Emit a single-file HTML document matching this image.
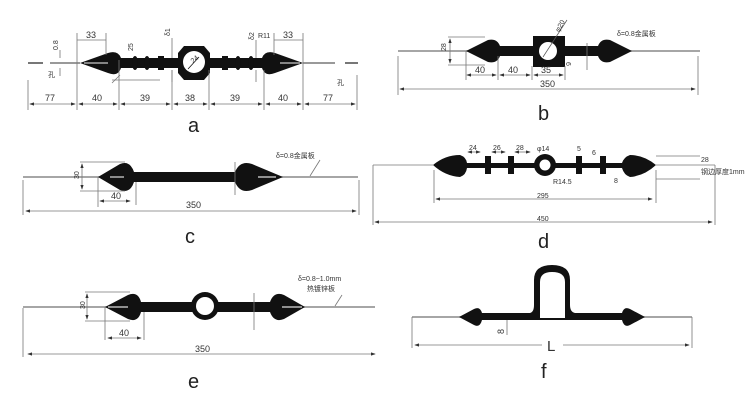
<!DOCTYPE html>
<html><head><meta charset="utf-8"><style>
html,body{margin:0;padding:0;background:#fff;}
svg{display:block;}
text{font-family:"Liberation Sans","Noto Sans CJK SC",sans-serif;fill:#333;}
.t{font-size:9px;}
.s{font-size:7px;}
.L{font-size:20px;fill:#222;}
.ln{stroke:#888;stroke-width:1;fill:none;}
.dl{stroke:#777;stroke-width:0.8;fill:none;}
.k{fill:#111;}
</style></head><body>
<svg width="750" height="401" viewBox="0 0 750 401" xmlns="http://www.w3.org/2000/svg">
<defs>
<marker id="a" markerWidth="6" markerHeight="6" refX="5" refY="3" orient="auto-start-reverse"><path d="M0,1 L6,3 L0,5z" fill="#333"/></marker>
</defs>
<rect width="750" height="401" fill="#fff"/>

<!-- Panel a -->
<g>
<line x1="28" y1="63" x2="43" y2="63" stroke="#777" stroke-width="2"/>
<line x1="50" y1="63" x2="80" y2="63" stroke="#999" stroke-width="2"/>
<line x1="303" y1="63" x2="335" y2="63" stroke="#999" stroke-width="2"/>
<line x1="345" y1="63" x2="358" y2="63" stroke="#777" stroke-width="2"/>
<path class="k" d="M80,63 L108,53 Q118,50 121,58 L178,58 L178,68 L121,68 Q118,77 108,73 Z"/>
<path class="k" d="M303,63 L275,53 Q265,50 262,58 L210,58 L210,68 L262,68 Q265,77 275,73 Z"/>
<line x1="84" y1="63" x2="108" y2="63" stroke="#aaa" stroke-width="1.5"/>
<line x1="280" y1="63" x2="300" y2="63" stroke="#aaa" stroke-width="1.5"/>
<g class="k">
<ellipse cx="135" cy="63" rx="3" ry="7"/><ellipse cx="147" cy="63" rx="3" ry="7"/><rect x="158" y="56" width="6" height="14"/>
<rect x="222" y="56" width="6" height="14"/><ellipse cx="238" cy="63" rx="3" ry="7"/><ellipse cx="251" cy="63" rx="3" ry="7"/>
</g>
<path class="k" d="M184,46 L204,46 L210,53 L210,73 L204,80 L184,80 L178,73 L178,53 Z"/>
<circle cx="194" cy="62" r="11" fill="#fff"/>
<line x1="188" y1="69" x2="199" y2="57" stroke="#111" stroke-width="0.8"/>
<text class="s" x="191" y="62" transform="rotate(-40 194 60)">24</text>
<g class="dl">
<line x1="28" y1="80" x2="28" y2="110"/><line x1="77" y1="33" x2="77" y2="110"/><line x1="119" y1="60" x2="119" y2="110"/>
<line x1="172" y1="70" x2="172" y2="110"/><line x1="209" y1="70" x2="209" y2="110"/><line x1="264" y1="70" x2="264" y2="110"/>
<line x1="303" y1="33" x2="303" y2="110"/><line x1="357" y1="75" x2="357" y2="110"/>
<line x1="106" y1="33" x2="106" y2="55"/><line x1="274" y1="33" x2="274" y2="55"/>
<line x1="77" y1="40" x2="106" y2="40"/><line x1="274" y1="40" x2="303" y2="40"/>
<line x1="112" y1="80" x2="160" y2="80"/><line x1="112" y1="83" x2="120" y2="75"/>
<line x1="172" y1="38" x2="172" y2="58"/><line x1="256" y1="40" x2="256" y2="58"/>
<line x1="60" y1="50" x2="60" y2="58"/><line x1="60" y1="68" x2="60" y2="76"/>
<line x1="256" y1="70" x2="256" y2="82"/><line x1="172" y1="70" x2="172" y2="82"/>
</g>
<g stroke="#777" stroke-width="0.8" marker-start="url(#a)" marker-end="url(#a)">
<line x1="30" y1="104" x2="75" y2="104"/><line x1="79" y1="104" x2="117" y2="104"/><line x1="121" y1="104" x2="170" y2="104"/>
<line x1="174" y1="104" x2="207" y2="104"/><line x1="211" y1="104" x2="262" y2="104"/><line x1="266" y1="104" x2="301" y2="104"/>
<line x1="305" y1="104" x2="355" y2="104"/>
</g>
<g class="t">
<text x="45" y="101">77</text><text x="92" y="101">40</text><text x="140" y="101">39</text><text x="185" y="101">38</text>
<text x="230" y="101">39</text><text x="278" y="101">40</text><text x="323" y="101">77</text>
<text x="86" y="38">33</text><text x="283" y="38">33</text><text x="258" y="38" class="s">R11</text>
</g>
<text class="s" x="55" y="53" transform="rotate(-90 55 50)">0.8</text>
<text class="s" x="48" y="77">孔</text><text class="s" x="337" y="85">孔</text>
<text class="s" x="130" y="58" transform="rotate(-90 128 53)">25</text>
<text class="s" x="170" y="40" transform="rotate(-90 168 38)">δ1</text>
<text class="s" x="254" y="44" transform="rotate(-90 252 42)">δ2</text>
<text class="L" x="188" y="132">a</text>
</g>

<!-- Panel b -->
<g>
<line x1="398" y1="51" x2="700" y2="51" stroke="#888" stroke-width="1.5"/>
<path class="k" d="M466,51 L488,40 Q497,38 500,46 L533,46 L533,56 L500,56 Q497,64 488,62 Z"/>
<path class="k" d="M632,51 L610,40 Q601,38 598,46 L565,46 L565,56 L598,56 Q601,64 610,62 Z"/>
<rect class="k" x="533" y="36" width="32" height="31"/>
<circle cx="548" cy="51" r="9" fill="#fff"/>
<line x1="543" y1="57" x2="567" y2="20" stroke="#555" stroke-width="0.7"/>
<text class="s" x="553" y="30" transform="rotate(-60 558 26)">φ20</text>
<text class="s" x="617" y="36">δ=0.8金属板</text>
<g class="dl">
<line x1="448" y1="37" x2="485" y2="37"/><line x1="448" y1="65" x2="485" y2="65"/>
<line x1="466" y1="51" x2="466" y2="80"/><line x1="498" y1="56" x2="498" y2="80"/><line x1="532" y1="66" x2="532" y2="80"/><line x1="565" y1="66" x2="565" y2="80"/>
<line x1="398" y1="56" x2="398" y2="95"/><line x1="698" y1="56" x2="698" y2="95"/><line x1="587" y1="43" x2="587" y2="70"/>
</g>
<g stroke="#777" stroke-width="0.8" marker-start="url(#a)" marker-end="url(#a)">
<line x1="450" y1="39" x2="450" y2="63"/>
<line x1="467" y1="75" x2="496" y2="75"/><line x1="500" y1="75" x2="530" y2="75"/><line x1="534" y1="75" x2="563" y2="75"/>
<line x1="400" y1="89" x2="695" y2="89"/>
</g>
<g class="t"><text x="475" y="73">40</text><text x="508" y="73">40</text><text x="541" y="73">35</text><text x="540" y="87">350</text></g>
<text class="s" x="442" y="55" transform="rotate(-90 442 51)">28</text>
<text class="s" x="568" y="66" transform="rotate(90 569 63)">6</text>
<text class="L" x="538" y="120">b</text>
</g>

<!-- Panel c -->
<g>
<line x1="23" y1="177" x2="358" y2="177" stroke="#888" stroke-width="1.5"/>
<path class="k" d="M98,177 L120,164 Q130,160 134,172 L235,172 Q240,160 252,164 L283,177 L252,190 Q240,194 235,182 L134,182 Q130,194 120,190 Z"/>
<line x1="110" y1="177" x2="124" y2="177" stroke="#ddd" stroke-width="1.2"/>
<line x1="258" y1="177" x2="276" y2="177" stroke="#ddd" stroke-width="1.2"/>
<text class="s" x="276" y="158">δ=0.8金属板</text>
<line x1="310" y1="176" x2="320" y2="160" class="dl"/>
<g class="dl">
<line x1="80" y1="162" x2="125" y2="162"/><line x1="80" y1="191" x2="125" y2="191"/>
<line x1="98" y1="177" x2="98" y2="207"/><line x1="136" y1="182" x2="136" y2="205"/>
<line x1="23" y1="180" x2="23" y2="215"/><line x1="359" y1="180" x2="359" y2="215"/><line x1="235" y1="162" x2="235" y2="195"/>
</g>
<g stroke="#777" stroke-width="0.8" marker-start="url(#a)" marker-end="url(#a)">
<line x1="82" y1="164" x2="82" y2="189"/><line x1="100" y1="201" x2="130" y2="201"/><line x1="26" y1="211" x2="356" y2="211"/>
</g>
<g class="t"><text x="111" y="199">40</text><text x="186" y="208">350</text></g>
<text class="s" x="74" y="180" transform="rotate(-90 76 177)">30</text>
<text class="L" x="185" y="243">c</text>
</g>

<!-- Panel d -->
<g>
<path class="k" d="M433,165 Q445,155 460,155 Q466,157 467,163 L535,163 L535,168 L467,168 Q466,175 460,177 Q445,176 433,165 Z"/>
<path class="k" d="M656,165 Q644,155 630,155 Q624,157 622,163 L555,163 L555,168 L622,168 Q624,175 630,177 Q644,176 656,165 Z"/>
<rect class="k" x="485" y="156" width="6" height="18"/><rect class="k" x="508" y="156" width="6" height="18"/>
<rect class="k" x="576" y="156" width="6" height="18"/><rect class="k" x="600" y="156" width="6" height="18"/>
<circle cx="545" cy="165" r="11" class="k"/><circle cx="545" cy="165" r="5.5" fill="#fff"/>
<g class="dl">
<line x1="373" y1="165" x2="433" y2="165"/><line x1="656" y1="165" x2="715" y2="165"/>
<line x1="373" y1="165" x2="373" y2="225"/><line x1="715" y1="165" x2="715" y2="225"/>
<line x1="434" y1="170" x2="434" y2="203"/><line x1="656" y1="170" x2="656" y2="203"/>
<line x1="656" y1="156" x2="700" y2="156"/><line x1="656" y1="179" x2="700" y2="179"/>
</g>
<g stroke="#777" stroke-width="0.8" marker-start="url(#a)" marker-end="url(#a)">
<line x1="436" y1="199" x2="652" y2="199"/><line x1="375" y1="222" x2="712" y2="222"/>
<line x1="468" y1="152" x2="480" y2="152"/><line x1="492" y1="152" x2="505" y2="152"/><line x1="515" y1="152" x2="530" y2="152"/>
</g>
<g class="s">
<text x="469" y="150">24</text><text x="493" y="150">26</text><text x="516" y="150">28</text><text x="537" y="151">φ14</text>
<text x="577" y="151">5</text><text x="592" y="155">6</text><text x="553" y="184">R14.5</text><text x="614" y="183">8</text>
<text x="701" y="162">28</text><text x="701" y="174">钢边厚度1mm</text>
<text x="537" y="198">295</text><text x="537" y="221">450</text>
</g>
<text class="L" x="538" y="248">d</text>
</g>

<!-- Panel e -->
<g>
<line x1="23" y1="307" x2="375" y2="307" stroke="#888" stroke-width="1.5"/>
<path class="k" d="M105,307 L128,295 Q138,291 141,302 L270,302 Q274,291 284,295 L305,307 L284,319 Q274,323 270,312 L141,312 Q138,323 128,319 Z"/>
<circle cx="205" cy="306" r="14" class="k"/><circle cx="205" cy="306" r="9" fill="#fff"/>
<line x1="108" y1="307" x2="128" y2="307" stroke="#ddd" stroke-width="1.2"/>
<line x1="282" y1="307" x2="302" y2="307" stroke="#ddd" stroke-width="1.2"/>
<text class="s" x="298" y="281">δ=0.8~1.0mm</text>
<text class="s" x="307" y="291">热镀锌板</text>
<line x1="335" y1="306" x2="342" y2="295" class="dl"/>
<g class="dl">
<line x1="85" y1="292" x2="130" y2="292"/><line x1="85" y1="321" x2="130" y2="321"/>
<line x1="105" y1="307" x2="105" y2="340"/><line x1="144" y1="312" x2="144" y2="340"/>
<line x1="23" y1="308" x2="23" y2="357"/><line x1="254" y1="293" x2="254" y2="330"/>
</g>
<g stroke="#777" stroke-width="0.8" marker-start="url(#a)" marker-end="url(#a)">
<line x1="87" y1="294" x2="87" y2="319"/><line x1="108" y1="338" x2="141" y2="338"/><line x1="28" y1="354" x2="375" y2="354"/>
</g>
<g class="t"><text x="119" y="336">40</text><text x="195" y="352">350</text></g>
<text class="s" x="80" y="310" transform="rotate(-90 82 307)">30</text>
<text class="L" x="188" y="388">e</text>
</g>

<!-- Panel f -->
<g>
<line x1="412" y1="317" x2="692" y2="317" stroke="#888" stroke-width="1.5"/>
<path class="k" d="M459,317 L474,309 Q480,306 482,313 L530,313 Q534,312 534,305 L534,280 Q534,265 552,265 Q570,265 570,280 L570,305 Q570,312 575,313 L622,313 Q624,306 630,309 L645,317 L630,325 Q624,328 622,320 L482,320 Q480,328 474,325 Z"/>
<path d="M540,318 L540,282 Q540,272 552,272 Q565,272 565,282 L565,318 Z" fill="#fff"/>
<line x1="507" y1="320" x2="507" y2="335" class="dl"/>
<text class="t" x="496" y="332" transform="rotate(-90 501 329)">8</text>
<line x1="412" y1="317" x2="412" y2="348" class="dl"/><line x1="692" y1="317" x2="692" y2="348" class="dl"/>
<line x1="415" y1="345" x2="542" y2="345" stroke="#777" stroke-width="0.8" marker-start="url(#a)"/>
<line x1="563" y1="345" x2="689" y2="345" stroke="#777" stroke-width="0.8" marker-end="url(#a)"/>
<text x="547" y="351" style="font-size:15px">L</text>
<text class="L" x="541" y="378">f</text>
</g>
</svg>
</body></html>
